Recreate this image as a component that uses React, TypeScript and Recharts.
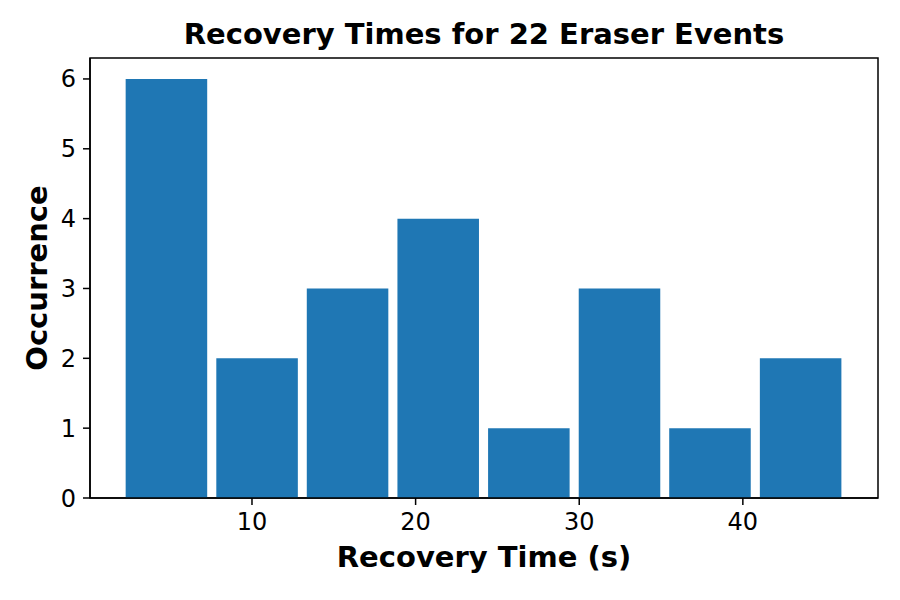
import { ComposedChart, Bar, XAxis, YAxis, ReferenceArea } from "recharts";

// histogram bins (bin centres in seconds, counts)
const binCenters = [4.8, 10.34, 15.87, 21.41, 26.95, 32.49, 38.02, 43.56];
const counts = [6, 2, 3, 4, 1, 3, 1, 2];
const xTicks = [10, 20, 30, 40];
const yTicks = [0, 1, 2, 3, 4, 5, 6];

const xDomain: [number, number] = [0.1, 48.26];
const yDomain: [number, number] = [0, 6.3];
const binWidth = 5.537;

const W = 900;
const H = 600;
const margin = { top: 58, right: 22, bottom: 0, left: 0 };
const yAxisWidth = 90;
const xAxisHeight = 102;
const plotWidth = W - margin.left - margin.right - yAxisWidth;
const plotHeight = H - margin.top - margin.bottom - xAxisHeight;

const font = "'DejaVu Sans', sans-serif";

export default function App() {
  const data = binCenters.map((x, i) => ({ x, count: counts[i] }));
  // rwidth 0.9, converted to pixels through the x scale
  const barPx = (0.9 * binWidth * plotWidth) / (xDomain[1] - xDomain[0]);
  const cx = margin.left + yAxisWidth + plotWidth / 2;
  const cy = margin.top + plotHeight / 2;

  return (
    <div style={{ position: "absolute", left: 0, top: 0, width: W, height: H, background: "#fff" }}>
      <ComposedChart width={W} height={H} data={data} margin={margin}>
        <XAxis
          dataKey="x"
          type="number"
          domain={xDomain}
          allowDataOverflow
          ticks={xTicks}
          height={xAxisHeight}
          tickSize={7}
          tickMargin={8}
          stroke="#000"
          strokeWidth={1.5}
          tick={{ fill: "#000", fontSize: 24, fontFamily: font }}
        />
        <YAxis
          type="number"
          domain={yDomain}
          allowDataOverflow
          ticks={yTicks}
          width={yAxisWidth}
          tickSize={7}
          tickMargin={7}
          stroke="#000"
          strokeWidth={1.5}
          tick={{ fill: "#000", fontSize: 24, fontFamily: font }}
        />
        <Bar dataKey="count" fill="#1f77b4" barSize={barPx} isAnimationActive={false} />
        <ReferenceArea
          x1={xDomain[0]}
          x2={xDomain[1]}
          y1={yDomain[0]}
          y2={yDomain[1]}
          fill="none"
          fillOpacity={0}
          stroke="#000"
          strokeWidth={1.5}
          ifOverflow="visible"
        />
        <text x={cx} y={44} textAnchor="middle" fontFamily={font} fontWeight="bold" fontSize={29} fill="#000">
          Recovery Times for 22 Eraser Events
        </text>
        <text x={cx} y={567} textAnchor="middle" fontFamily={font} fontWeight="bold" fontSize={29} fill="#000">
          Recovery Time (s)
        </text>
        <text
          x={47}
          y={cy}
          textAnchor="middle"
          transform={`rotate(-90, 47, ${cy})`}
          fontFamily={font}
          fontWeight="bold"
          fontSize={29}
          fill="#000"
        >
          Occurrence
        </text>
      </ComposedChart>
    </div>
  );
}
